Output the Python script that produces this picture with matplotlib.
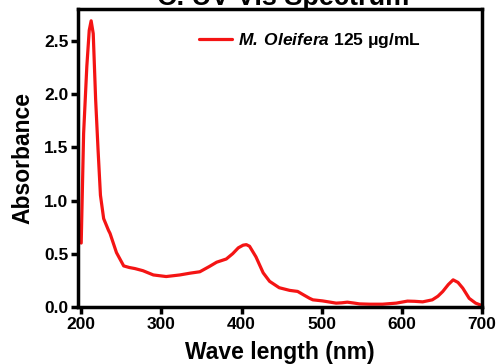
import matplotlib.pyplot as plt
import numpy as np

plt.rcParams['font.family'] = ['Liberation Sans', 'DejaVu Sans']
plt.rcParams['font.weight'] = 'bold'
plt.rcParams['mathtext.fontset'] = 'custom'
plt.rcParams['mathtext.rm'] = 'Liberation Sans:bold'
plt.rcParams['mathtext.bfit'] = 'Liberation Sans:italic:bold'

# spectrum
wavelength = [200, 203, 207, 210, 212.4, 215, 218, 221, 224, 228, 234, 236, 244,
              253, 260, 267, 277, 290, 306, 323, 336, 348, 360, 369, 381,
              389, 396, 402, 406, 410, 418, 427, 435, 447, 460, 470, 478,
              485, 489, 501, 510, 518, 525, 532, 540, 547, 560, 576, 593,
              607, 616, 626, 638, 645, 651, 658, 664, 670, 676, 684, 692, 700]
absorbance = [0.60, 1.63, 2.26, 2.60, 2.69, 2.57, 1.95, 1.48, 1.05, 0.83, 0.72, 0.69, 0.51,
              0.385, 0.37, 0.36, 0.34, 0.30, 0.285, 0.30, 0.317, 0.33, 0.38, 0.42, 0.45,
              0.50, 0.555, 0.58, 0.585, 0.57, 0.47, 0.32, 0.24, 0.18, 0.155, 0.145, 0.11,
              0.08, 0.066, 0.056, 0.045, 0.035, 0.038, 0.044, 0.036, 0.028, 0.025, 0.025, 0.035,
              0.054, 0.052, 0.047, 0.066, 0.10, 0.144, 0.21, 0.254, 0.23, 0.176, 0.08, 0.035, 0.012]
xticks = [200, 300, 400, 500, 600, 700]
yticks = [0.0, 0.5, 1.0, 1.5, 2.0, 2.5]

fig = plt.figure(figsize=(5, 3.64), dpi=100)
ax = fig.add_axes([0.156, 0.157, 0.808, 0.818])

ax.plot(wavelength, absorbance, color='#f41414', lw=2.3,
        solid_joinstyle='round', solid_capstyle='round',
        label=r'$\mathbfit{M.\,Oleifera}$ 125 μg/mL')

ax.set_xlim(196, 700)
ax.set_ylim(0, 2.8)
ax.set_xticks(xticks)
ax.set_yticks(yticks)
ax.set_yticklabels(['%.1f' % v for v in yticks])
for s in ax.spines.values():
    s.set_linewidth(2.5)
ax.tick_params(width=2.5, length=5, labelsize=12.5, pad=2)

ax.set_xlabel('Wave length (nm)', fontsize=16.5, fontweight='bold', labelpad=7)
ax.set_ylabel('Absorbance', fontsize=16.5, fontweight='bold', labelpad=7)

leg = ax.legend(loc='center left', frameon=False, fontsize=12.5,
                handlelength=1.9, handletextpad=0.35, borderpad=0,
                borderaxespad=0, bbox_to_anchor=(0.30, 0.893))

fig.text(0.566, 0.986, 'C. UV-Vis Spectrum', fontsize=19.5, fontweight='bold',
         ha='center', va='baseline')

fig.savefig('out.png', dpi=100)
